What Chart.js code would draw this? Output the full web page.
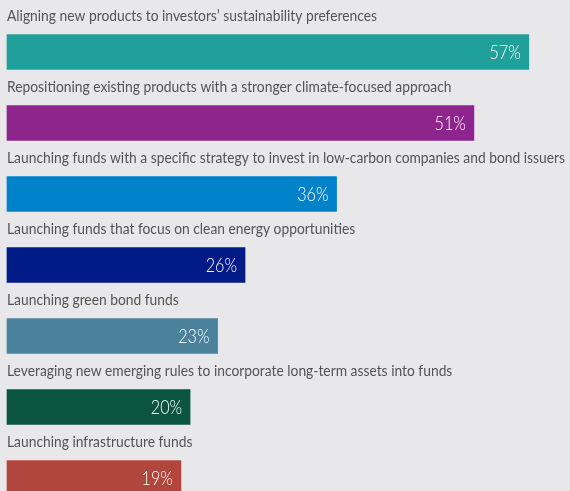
<!DOCTYPE html>
<html lang="en">
<head>
    <meta charset="UTF-8">
    <title>Sustainability product strategies</title>
    <script src="https://cdn.jsdelivr.net/npm/chart.js"></script>
    <style>
        html, body { margin: 0; padding: 0; background: #e8e8ea; }
        #wrap { width: 570px; height: 491px; }
    </style>
</head>
<body>
    <div id="wrap">
        <canvas id="chartStrategies"></canvas>
    </div>

    <script>
        const categories = [
            'Aligning new products to investors\u2019 sustainability preferences',
            'Repositioning existing products with a stronger climate-focused approach',
            'Launching funds with a specific strategy to invest in low-carbon companies and bond issuers',
            'Launching funds that focus on clean energy opportunities',
            'Launching green bond funds',
            'Leveraging new emerging rules to incorporate long-term assets into funds',
            'Launching infrastructure funds'
        ];
        const shares = [57, 51, 36, 26, 23, 20, 19];
        const barColors = ['#20a09a', '#8e258d', '#0082cb', '#001a87', '#4a829c', '#0b543e', '#b0463c'];

        // labels above the bars and values inside the bar end
        const barText = {
            id: 'barText',
            afterDatasetsDraw(chart) {
                const ctx = chart.ctx;
                const meta = chart.getDatasetMeta(0);
                const left = chart.chartArea.left;
                ctx.save();
                // the original face is narrow, so squeeze the text to the same width
                ctx.font = '15px Lato, sans-serif';
                const widest = Math.max(...categories.map(c => ctx.measureText(c).width));
                const squeeze = Math.min(1, 558 / widest);
                meta.data.forEach((bar, i) => {
                    const top = bar.y - bar.height / 2;
                    ctx.save();
                    ctx.translate(left, top - 18);
                    ctx.scale(squeeze, 1);
                    ctx.fillStyle = '#545456';
                    ctx.font = '15px Lato, sans-serif';
                    ctx.textAlign = 'left';
                    ctx.textBaseline = 'middle';
                    ctx.fillText(categories[i], 0, 0);
                    ctx.restore();

                    ctx.save();
                    ctx.translate(bar.x - 8, bar.y + 1);
                    ctx.scale(0.85, 1);
                    ctx.fillStyle = '#ffffff';
                    ctx.font = '300 19px Lato, sans-serif';
                    ctx.textAlign = 'right';
                    ctx.textBaseline = 'middle';
                    ctx.fillText(shares[i] + '%', 0, 0);
                    ctx.restore();
                });
                ctx.restore();
            }
        };

        new Chart(document.getElementById('chartStrategies'), {
            type: 'bar',
            data: {
                labels: categories,
                datasets: [{
                    data: shares,
                    backgroundColor: barColors,
                    barThickness: 35,
                    borderWidth: 0,
                    clip: false
                }]
            },
            options: {
                indexAxis: 'y',
                responsive: true,
                maintainAspectRatio: false,
                animation: false,
                layout: { padding: { left: 7, right: 0, top: 52, bottom: 13 } },
                scales: {
                    x: { display: false, min: 0, max: 61.5 },
                    y: { display: false, offset: false }
                },
                plugins: {
                    legend: { display: false },
                    tooltip: { enabled: false }
                }
            },
            plugins: [barText]
        });
    </script>
</body>
</html>
